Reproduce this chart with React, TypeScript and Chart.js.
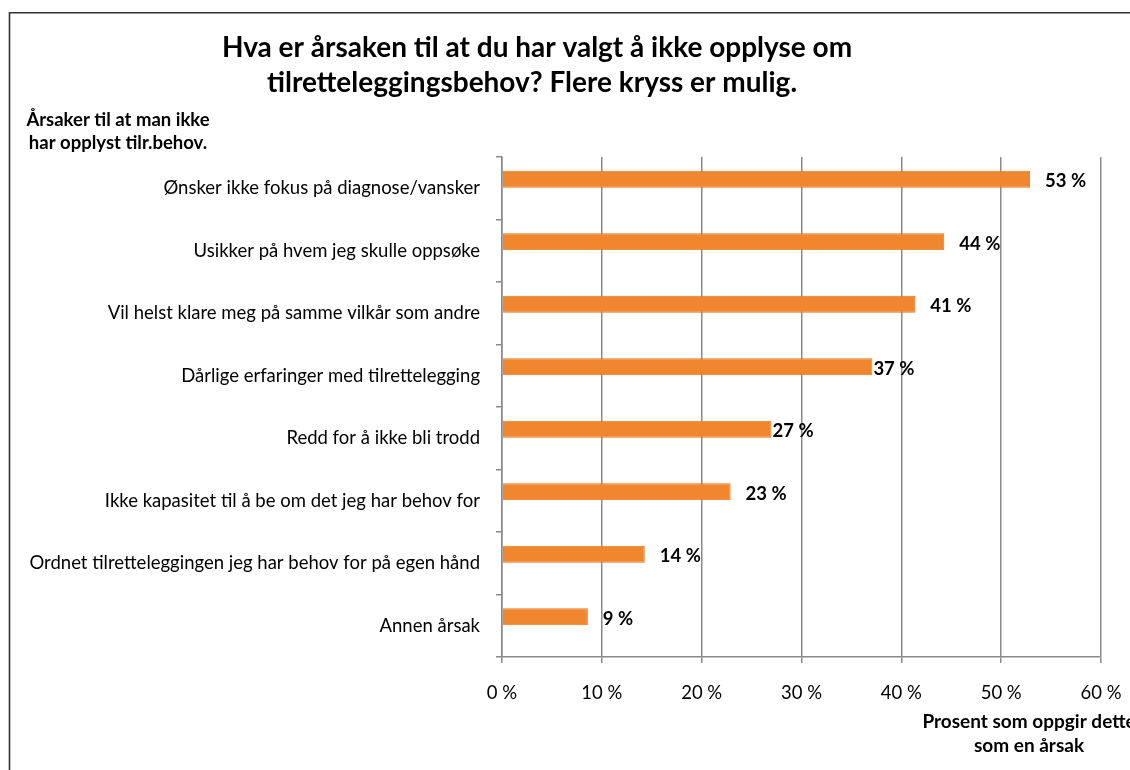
import React, { useEffect, useRef } from "react";
import { Chart, registerables } from "chart.js";

Chart.register(...registerables);

const categories = [
  "Ønsker ikke fokus på diagnose/vansker",
  "Usikker på hvem jeg skulle oppsøke",
  "Vil helst klare meg på samme vilkår som andre",
  "Dårlige erfaringer med tilrettelegging",
  "Redd for å ikke bli trodd",
  "Ikke kapasitet til å be om det jeg har behov for",
  "Ordnet tilretteleggingen jeg har behov for på egen hånd",
  "Annen årsak",
];
const values = [52.9, 44.3, 41.4, 37.1, 27.0, 22.9, 14.3, 8.6];
const valueLabels = ["53 %", "44 %", "41 %", "37 %", "27 %", "23 %", "14 %", "9 %"];
const xMin = 0;
const xMax = 60;
const xStep = 10;
const titleLines = [
  "Hva er årsaken til at du har valgt å ikke opplyse om",
  "tilretteleggingsbehov? Flere kryss er mulig.",
];
const yTitleLines = ["Årsaker til at man ikke", "har opplyst tilr.behov."];
const xTitleLines = ["Prosent som oppgir dette", "som en årsak"];

const FONT = 'Lato, "Open Sans", "DejaVu Sans", sans-serif';
const labelGaps = [15, 15, 15, 1, 1, 15, 15, 15];

const overlayPlugin = {
  id: "overlay",
  afterDraw(chart: any) {
    const ctx = chart.ctx;
    ctx.save();
    // frame
    ctx.strokeStyle = "#333333";
    ctx.lineWidth = 1.6;
    ctx.beginPath();
    ctx.moveTo(9.5, 770);
    ctx.lineTo(9.5, 12.8);
    ctx.lineTo(1130, 12.8);
    ctx.stroke();

    ctx.fillStyle = "#000";
    ctx.textBaseline = "middle";
    ctx.textAlign = "center";
    ctx.font = `bold 28px ${FONT}`;
    ctx.fillText(titleLines[0], 537, 48);
    ctx.fillText(titleLines[1], 532, 83);

    ctx.font = `bold 18.5px ${FONT}`;
    ctx.fillText(yTitleLines[0], 118, 120);
    ctx.fillText(yTitleLines[1], 118, 143);

    ctx.font = `bold 19px ${FONT}`;
    ctx.fillText(xTitleLines[0], 1029, 722);
    ctx.fillText(xTitleLines[1], 1029, 746);

    // data labels
    ctx.textAlign = "left";
    ctx.font = `bold 18.5px ${FONT}`;
    const meta = chart.getDatasetMeta(0);
    meta.data.forEach((bar: any, i: number) => {
      ctx.fillText(valueLabels[i], bar.x + labelGaps[i], bar.y + 2);
    });
    ctx.restore();
  },
};

export default function App() {
  const ref = useRef<HTMLCanvasElement>(null);
  useEffect(() => {
    if (!ref.current) return;
    const chart = new Chart(ref.current, {
      type: "bar",
      data: {
        labels: categories,
        datasets: [
          {
            data: values,
            backgroundColor: "#F0862E",
            borderColor: "#E8741F",
            borderWidth: 1,
            categoryPercentage: 0.576,
            barPercentage: 0.94,
          },
          {
            data: categories.map(() => null),
            backgroundColor: "transparent",
            categoryPercentage: 0.576,
            barPercentage: 0.94,
          },
        ],
      },
      options: {
        indexAxis: "y",
        responsive: false,
        animation: false,
        layout: { padding: { top: 157, right: 29, bottom: 0, left: 0 } },
        plugins: {
          legend: { display: false },
          tooltip: { enabled: false },
          title: { display: false },
        },
        scales: {
          x: {
            min: xMin,
            max: xMax,
            ticks: {
              stepSize: xStep,
              callback: (v: any) => `${v} %`,
              color: "#000",
              font: { family: FONT, size: 18.5 },
              padding: 19,
            },
            grid: {
              color: "#8a8a8a",
              lineWidth: 1.5,
              tickLength: 6,
              drawTicks: true,
            },
            border: { color: "#8a8a8a", width: 1.5 },
            afterFit: (s: any) => {
              s.height = 113;
              s.paddingRight = 0;
              s.paddingLeft = 0;
            },
          },
          y: {
            ticks: {
              color: "#000",
              font: { family: FONT, size: 18.5 },
              padding: 16,
              autoSkip: false,
            },
            grid: {
              drawOnChartArea: false,
              drawTicks: true,
              tickLength: 6,
              color: "#8a8a8a",
              lineWidth: 1.5,
              offset: true,
            },
            border: { color: "#8a8a8a", width: 1.5 },
            afterFit: (s: any) => {
              s.width = 502;
              s.paddingTop = 0;
              s.paddingBottom = 0;
            },
          },
        },
      },
      plugins: [overlayPlugin],
    });
    return () => chart.destroy();
  }, []);
  return (
    <div style={{ position: "absolute", left: 0, top: 0, width: 1130, height: 770, background: "#fff" }}>
      <canvas ref={ref} width={1130} height={770} />
    </div>
  );
}
